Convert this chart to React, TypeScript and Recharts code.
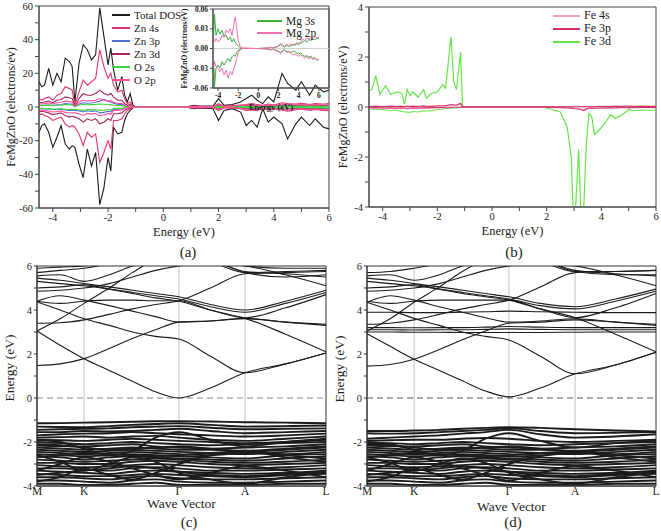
import { LineChart, Line, XAxis, YAxis, ReferenceLine, ReferenceArea } from 'recharts'

const SERIF = '"Liberation Serif", "Times New Roman", Times, serif'
const INK = '#222'

// ---------- (a) total and partial DOS of FeMgZnO ----------
const E_A = [-4.5, -4.4, -4.3, -4.15, -4.0, -3.85, -3.7, -3.55, -3.4, -3.3, -3.2, -3.05, -2.9, -2.75, -2.6, -2.45, -2.3, -2.15, -2.0, -1.9, -1.8, -1.65, -1.5, -1.4, -1.3, -1.2, -1.1, -1.0, 0.0, 0.9, 1.1, 1.3, 1.8, 2.0, 2.2, 2.5, 2.8, 3.0, 3.2, 3.4, 3.6, 3.8, 4.0, 4.3, 4.5, 4.8, 5.0, 5.3, 5.5, 5.8, 6.0]
const TOTAL_UP = [15, 12, 13, 23, 13, 20, 15, 29, 27, 24, 3, 26, 37, 34, 28, 31, 59, 42, 25, 35, 22, 10, 18, 7, 3, 8, 1, 0, 0, 0.3, 1, 0.5, 0.5, 5, 1, 1.5, 3, 5, 7, 4, 2, 6, 3, 20, 14, 10, 15, 7, 13, 9, 10]
const TOTAL_DN = [-15, -11, -10, -15, -24, -18, -11, -22, -25, -23, -24, -34, -42, -25, -35, -27, -58, -48, -30, -38, -12, -16, -15, -8, -4, -2, -0.5, 0, 0, -0.3, -1, -0.5, -1, -8, -2, -1, -3, -11, -8, -12, -1, -9, -6, -10, -19, -10, -6, -11, -7, -12, -13]
const ZN4S_UP = [5, 4, 5, 6, 4, 7, 8, 12, 11, 10, 1, 9, 16, 13, 15, 17, 34, 24, 17, 20, 13, 9, 10, 5, 2, 3, 0.5, 0, 0, 0.2, 0.6, 0.3, 0.3, 2, 0.5, 0.8, 1.2, 1.5, 2, 1.5, 1, 1.8, 1.2, 2.5, 2, 1.8, 2.2, 1.5, 2, 1.8, 2]
const ZN4S_DN = [-5, -4, -5, -6, -8, -7, -6, -10, -12, -11, -12, -16, -23, -15, -18, -16, -33, -27, -20, -25, -8, -8, -7, -4, -2, -1, -0.3, 0, 0, -0.2, -0.5, -0.3, -0.4, -2, -0.6, -0.5, -1, -2, -1.8, -2.2, -0.6, -1.8, -1.2, -1.8, -2.5, -1.6, -1.2, -2, -1.4, -2, -2.2]
const ZN3P_UP = [1, 0.8, 1, 1.2, 0.8, 1.3, 1.5, 2, 1.8, 1.7, 0.2, 1.8, 2.5, 2.2, 2.4, 2.8, 3.5, 4.5, 3.5, 3, 2.2, 1.5, 1.6, 0.8, 0.4, 0.6, 0.1, 0, 0, 0.1, 0.3, 0.1, 0.1, 0.8, 0.2, 0.3, 0.5, 0.7, 0.8, 0.6, 0.4, 0.7, 0.5, 1, 0.8, 0.7, 0.9, 0.6, 0.8, 0.7, 0.8]
const ZN3P_DN = [-1, -0.8, -1, -1.2, -1.5, -1.3, -1.2, -1.8, -2, -1.9, -2, -2.4, -3, -2.2, -2.6, -2.3, -3.5, -3.2, -2.5, -2.8, -1.2, -1.3, -1.1, -0.7, -0.4, -0.2, -0.1, 0, 0, -0.1, -0.3, -0.1, -0.2, -0.8, -0.2, -0.2, -0.4, -0.8, -0.7, -0.9, -0.3, -0.7, -0.5, -0.8, -1, -0.7, -0.5, -0.8, -0.6, -0.8, -0.9]
const ZN3D_UP = [3, 2.5, 3, 3.5, 2.5, 4, 4.5, 6, 5.5, 5, 0.5, 5, 8, 7, 7, 8, 10, 8, 7, 8, 6, 4, 4, 2, 1, 1.5, 0.2, 0, 0, 0.1, 0.3, 0.2, 0.2, 1, 0.3, 0.4, 0.6, 0.8, 1, 0.7, 0.5, 0.9, 0.6, 1.2, 1, 0.9, 1.1, 0.8, 1, 0.9, 1]
const ZN3D_DN = [-3, -2.5, -2.8, -3.5, -4.5, -4, -3.5, -5, -6, -5.5, -6, -7, -9, -7, -8, -7, -10, -9, -7, -8, -4, -4, -3.5, -2, -1, -0.5, -0.1, 0, 0, -0.1, -0.3, -0.2, -0.2, -1, -0.3, -0.3, -0.5, -1, -0.9, -1.1, -0.3, -0.9, -0.6, -0.9, -1.2, -0.8, -0.6, -1, -0.7, -1, -1.1]
const O2S_UP = [1, 0.8, 1, 1.1, 0.9, 1, 1.2, 1.4, 1.3, 1.2, 0.2, 1.2, 1.5, 1.3, 1.4, 1.5, 1.8, 1.6, 1.3, 1.4, 1, 0.7, 0.8, 0.4, 0.2, 0.3, 0.05, 0, 0, 0.05, 0.1, 0.05, 0.05, 0.5, 0.1, 0.2, 0.3, 0.4, 0.5, 0.3, 0.2, 0.4, 0.3, 0.6, 0.5, 0.4, 0.5, 0.4, 0.5, 0.4, 0.5]
const O2S_DN = [-1, -0.8, -0.9, -1.1, -1.3, -1.2, -1, -1.4, -1.5, -1.4, -1.5, -1.7, -2, -1.5, -1.7, -1.6, -2, -1.9, -1.5, -1.7, -0.8, -0.8, -0.7, -0.4, -0.2, -0.1, -0.05, 0, 0, -0.05, -0.1, -0.05, -0.1, -0.5, -0.1, -0.1, -0.3, -0.5, -0.4, -0.5, -0.2, -0.4, -0.3, -0.5, -0.6, -0.4, -0.3, -0.5, -0.4, -0.5, -0.5]
const O2P_UP = [2, 1.8, 2, 2.4, 1.8, 2.5, 2.8, 3.5, 3.2, 3, 0.3, 3, 4, 3.6, 3.8, 4, 5, 4.2, 3.5, 3.8, 2.8, 2, 2.2, 1.2, 0.6, 0.8, 0.1, 0, 0, 0.1, 0.4, 0.2, 0.2, 1.5, 0.4, 0.6, 0.9, 1.2, 1.4, 1, 0.7, 1.2, 0.9, 1.8, 1.5, 1.3, 1.6, 1.1, 1.5, 1.3, 1.5]
const O2P_DN = [-2, -1.8, -2, -2.4, -3, -2.7, -2.3, -3.2, -3.6, -3.4, -3.5, -4, -5, -3.8, -4.2, -3.9, -5.2, -4.8, -3.8, -4.3, -2, -2, -1.8, -1, -0.5, -0.3, -0.1, 0, 0, -0.1, -0.4, -0.2, -0.3, -1.6, -0.4, -0.4, -0.8, -1.6, -1.3, -1.8, -0.5, -1.4, -1, -1.5, -2, -1.3, -1, -1.6, -1.2, -1.6, -1.8]

// inset of (a): Mg partial DOS
const E_I = [-4.5, -4.45, -4.4, -4.35, -4.2, -4.0, -3.8, -3.6, -3.4, -3.2, -3.0, -2.8, -2.6, -2.45, -2.3, -2.15, -2.0, -1.8, -1.6, 0, 1.0, 1.2, 1.4, 2.0, 2.2, 2.4, 2.6, 2.8, 3.0, 3.2, 3.4, 3.6, 3.8, 4.0, 4.2, 4.4, 4.6, 4.8, 5.0, 5.2, 5.4, 5.6, 5.8, 6.0]
const MG3S_UP = [0.015, 0.02, 0.03, 0.052, 0.02, 0.03, 0.022, 0.028, 0.018, 0.02, 0.013, 0.017, 0.01, 0.015, 0.01, 0.006, 0.004, 0.001, 0, 0, 0.001, 0.002, 0.001, 0.003, 0.006, 0.004, 0.002, 0.005, 0.003, 0.004, 0.006, 0.005, 0.007, 0.006, 0.008, 0.01, 0.012, 0.01, 0.014, 0.012, 0.015, 0.013, 0.016, 0.015]
const MG3S_DN = [-0.02, -0.03, -0.03, -0.058, -0.03, -0.025, -0.03, -0.02, -0.025, -0.02, -0.015, -0.02, -0.012, -0.01, -0.012, -0.006, -0.003, -0.001, 0, 0, -0.001, -0.002, -0.001, -0.004, -0.006, -0.003, -0.002, -0.005, -0.004, -0.006, -0.005, -0.004, -0.007, -0.008, -0.007, -0.01, -0.012, -0.011, -0.013, -0.012, -0.015, -0.014, -0.017, -0.016]
const MG2P_UP = [0.02, 0.018, 0.012, 0.01, 0.015, 0.01, 0.013, 0.02, 0.017, 0.028, 0.024, 0.03, 0.02, 0.035, 0.048, 0.03, 0.012, 0.003, 0.001, 0, 0.001, 0.002, 0.001, 0.004, 0.008, 0.005, 0.003, 0.006, 0.005, 0.007, 0.005, 0.006, 0.009, 0.008, 0.01, 0.014, 0.012, 0.016, 0.014, 0.017, 0.015, 0.018, 0.016, 0.018]
const MG2P_DN = [-0.02, -0.03, -0.025, -0.02, -0.028, -0.03, -0.035, -0.03, -0.04, -0.033, -0.045, -0.035, -0.04, -0.03, -0.025, -0.015, -0.006, -0.002, 0, 0, -0.001, -0.002, -0.001, -0.005, -0.008, -0.004, -0.003, -0.006, -0.005, -0.007, -0.01, -0.008, -0.01, -0.012, -0.009, -0.013, -0.015, -0.012, -0.016, -0.013, -0.017, -0.015, -0.018, -0.017]

// ---------- (b) Fe partial DOS ----------
const E_B = [-4.5, -4.4, -4.25, -4.1, -3.9, -3.7, -3.5, -3.3, -3.2, -3.1, -3.0, -2.9, -2.7, -2.5, -2.4, -2.2, -2.0, -1.8, -1.7, -1.5, -1.4, -1.3, -1.15, -1.08, -1.03, 0, 1.9, 2.0, 2.2, 2.5, 2.75, 2.9, 2.97, 3.05, 3.17, 3.25, 3.35, 3.45, 3.55, 3.65, 3.75, 3.9, 4.1, 4.35, 4.5, 4.7, 4.9, 5.0, 5.2, 5.5, 5.8, 6.0]
const FE4S_UP = [0.03, 0.03, 0.04, 0.03, 0.03, 0.04, 0.03, 0.04, 0.02, 0.04, 0.03, 0.04, 0.03, 0.05, 0.03, 0.04, 0.05, 0.06, 0.05, 0.08, 0.1, 0.08, 0.12, 0.02, 0, 0, 0, 0.01, 0.01, 0.01, 0.01, 0.01, 0.01, 0.01, 0.01, 0.01, 0.01, 0.01, 0.01, 0.01, 0.02, 0.02, 0.02, 0.03, 0.03, 0.03, 0.03, 0.04, 0.03, 0.03, 0.03, 0.03]
const FE4S_DN = [-0.04, -0.05, -0.04, -0.06, -0.05, -0.06, -0.05, -0.07, -0.06, -0.08, -0.07, -0.06, -0.07, -0.05, -0.06, -0.05, -0.04, -0.04, -0.03, -0.03, -0.02, -0.02, -0.01, -0.01, 0, 0, 0, -0.01, -0.02, -0.02, -0.03, -0.03, -0.04, -0.05, -0.06, -0.08, -0.1, -0.06, -0.04, -0.05, -0.05, -0.04, -0.04, -0.03, -0.03, -0.02, -0.02, -0.03, -0.02, -0.02, -0.03, -0.02]
const FE3P_UP = [0.02, 0.02, 0.03, 0.02, 0.02, 0.03, 0.02, 0.03, 0.01, 0.03, 0.02, 0.03, 0.02, 0.04, 0.02, 0.03, 0.04, 0.05, 0.05, 0.1, 0.08, 0.07, 0.15, 0.02, 0, 0, 0, 0.01, 0.01, 0.01, 0.01, 0.01, 0.01, 0.01, 0.01, 0.01, 0.01, 0.01, 0.01, 0.01, 0.02, 0.02, 0.02, 0.02, 0.03, 0.02, 0.03, 0.03, 0.02, 0.03, 0.02, 0.03]
const FE3P_DN = [-0.02, -0.03, -0.02, -0.03, -0.04, -0.03, -0.04, -0.03, -0.04, -0.05, -0.04, -0.03, -0.04, -0.03, -0.03, -0.02, -0.02, -0.02, -0.01, -0.01, -0.01, -0.01, -0.01, 0, 0, 0, 0, -0.01, -0.02, -0.03, -0.04, -0.05, -0.06, -0.07, -0.08, -0.1, -0.14, -0.08, -0.05, -0.04, -0.05, -0.04, -0.04, -0.03, -0.04, -0.03, -0.03, -0.02, -0.03, -0.02, -0.02, -0.02]
const FE3D_UP = [0.65, 0.7, 1.25, 0.5, 0.85, 0.5, 0.6, 0.55, 0.1, 0.7, 0.45, 0.6, 0.4, 0.7, 0.35, 0.55, 0.6, 0.9, 0.75, 2.8, 1.0, 0.7, 2.2, 0.05, 0, 0, 0, 0.01, 0.01, 0.01, 0.02, 0.02, 0.02, 0.02, 0.02, 0.02, 0.02, 0.02, 0.02, 0.02, 0.02, 0.03, 0.03, 0.03, 0.03, 0.03, 0.03, 0.03, 0.03, 0.03, 0.03, 0.03]
const FE3D_DN = [-0.05, -0.08, -0.1, -0.08, -0.12, -0.15, -0.12, -0.18, -0.2, -0.2, -0.22, -0.18, -0.2, -0.15, -0.16, -0.14, -0.1, -0.08, -0.06, -0.05, -0.04, -0.03, -0.02, -0.01, 0, 0, 0, -0.05, -0.1, -0.2, -0.8, -2.0, -4.2, -4.2, -1.7, -4.2, -4.2, -1.5, -0.25, -0.4, -1.1, -0.95, -0.7, -0.3, -0.45, -0.35, -0.2, -0.1, -0.15, -0.12, -0.14, -0.12]

// ---------- (c), (d) band structures ----------
const KX = [0, 0.08, 0.163, 0.25, 0.33, 0.41, 0.491, 0.6, 0.72, 0.86, 1]
const K_POS = [0, 0.163, 0.491, 0.72, 1]
const K_LABELS = ['M', 'K', 'Γ', 'A', 'L']

const BANDS_C_CB = [
  [3.05, 2.4, 1.78, 1.25, 0.76, 0.28, 0.0, 0.45, 1.15, 1.55, 2.05],
  [1.48, 1.55, 1.79, 2.25, 2.7, 3.1, 3.45, 3.5, 3.6, 3.45, 3.35],
  [4.36, 4.0, 3.6, 3.3, 3.0, 2.8, 2.68, 1.9, 1.15, 1.55, 2.05],
  [3.05, 3.6, 4.3, 5.0, 5.7, 6.3, 6.6, 6.3, 5.7, 5.5, 5.6],
  [3.4, 3.42, 3.55, 3.8, 4.05, 4.25, 4.42, 5.0, 5.65, 5.7, 5.75],
  [4.4, 4.65, 4.45, 4.2, 3.95, 3.7, 3.45, 3.5, 3.62, 3.45, 3.3],
  [5.45, 5.35, 5.2, 5.05, 4.9, 4.75, 4.6, 4.25, 4.0, 4.4, 4.9],
  [5.3, 5.2, 5.1, 4.95, 4.8, 4.65, 4.5, 4.15, 3.9, 4.3, 4.8],
  [5.0, 5.05, 5.15, 4.95, 4.75, 4.55, 4.4, 4.0, 3.65, 4.1, 4.7],
  [4.4, 4.3, 4.4, 4.45, 4.45, 4.42, 4.42, 4.0, 3.62, 2.9, 2.1],
  [5.55, 5.6, 5.3, 5.6, 6.0, 6.3, 6.5, 6.2, 5.7, 5.75, 5.8],
  [5.7, 5.8, 5.9, 6.1, 6.3, 6.4, 6.5, 6.3, 5.75, 5.65, 5.5],
  [5.9, 5.95, 6.0, 6.2, 6.4, 6.5, 6.6, 6.4, 6.0, 5.9, 5.9],
  [4.85, 4.9, 5.0, 5.2, 5.5, 5.8, 6.0, 6.1, 6.0, 5.6, 5.1],
]
const BANDS_C_VB = [
  [-1.15, -1.14, -1.12, -1.1, -1.08, -1.06, -1.05, -1.07, -1.1, -1.12, -1.15],
  [-1.3, -1.32, -1.33, -1.28, -1.22, -1.18, -1.15, -1.22, -1.3, -1.28, -1.25],
  [-1.45, -1.42, -1.4, -1.38, -1.33, -1.3, -1.28, -1.35, -1.42, -1.4, -1.38],
  [-1.55, -1.55, -1.5, -1.52, -1.5, -1.45, -1.4, -1.5, -1.6, -1.55, -1.5],
  [-1.7, -1.65, -1.62, -1.6, -1.55, -1.6, -1.65, -1.7, -1.75, -1.7, -1.62],
  [-1.8, -1.78, -1.75, -1.8, -1.75, -1.72, -1.8, -1.9, -1.95, -1.85, -1.75],
  [-1.9, -1.92, -1.95, -1.9, -1.85, -1.9, -1.95, -2.0, -2.05, -2.0, -1.9],
  [-2.0, -2.05, -2.1, -2.05, -2.0, -2.05, -2.1, -2.15, -2.1, -2.05, -2.0],
  [-2.15, -2.2, -2.2, -2.15, -2.1, -2.2, -2.25, -2.3, -2.25, -2.2, -2.1],
  [-2.25, -2.3, -2.35, -2.3, -2.25, -2.3, -2.35, -2.35, -2.4, -2.3, -2.2],
  [-2.35, -2.4, -2.45, -2.4, -2.35, -2.4, -2.45, -2.5, -2.55, -2.45, -2.35],
  [-2.45, -2.5, -2.55, -2.5, -2.45, -2.5, -2.55, -2.6, -2.5, -2.55, -2.45],
  [-2.55, -2.6, -2.65, -2.6, -2.55, -2.6, -2.65, -2.7, -2.75, -2.6, -2.55],
  [-2.65, -2.7, -2.8, -2.7, -2.65, -2.7, -2.75, -2.8, -2.85, -2.75, -2.65],
  [-2.8, -2.85, -2.9, -2.85, -2.8, -2.75, -2.8, -2.9, -2.95, -2.9, -2.8],
  [-2.95, -2.95, -3.0, -3.0, -2.9, -2.85, -2.9, -3.0, -3.05, -3.0, -2.95],
  [-3.05, -3.1, -3.15, -3.1, -3.05, -3.0, -3.05, -3.15, -3.2, -3.15, -3.05],
  [-3.2, -3.2, -3.25, -3.3, -3.2, -3.15, -3.2, -3.3, -3.3, -3.25, -3.2],
  [-3.3, -3.35, -3.4, -3.45, -3.35, -3.3, -3.35, -3.4, -3.45, -3.4, -3.3],
  [-3.45, -3.5, -3.55, -3.55, -3.5, -3.45, -3.5, -3.55, -3.6, -3.5, -3.45],
  [-3.6, -3.6, -3.65, -3.7, -3.6, -3.55, -3.65, -3.7, -3.7, -3.65, -3.6],
  [-3.75, -3.75, -3.8, -3.85, -3.75, -3.7, -3.8, -3.85, -3.85, -3.8, -3.75],
  [-3.9, -3.9, -3.95, -3.95, -3.9, -3.85, -3.95, -3.95, -3.95, -3.9, -3.9],
  [-2.6, -2.9, -3.3, -3.0, -2.7, -2.9, -3.4, -3.7, -3.9, -3.6, -3.4],
  [-3.8, -3.6, -3.2, -3.5, -3.7, -3.4, -3.0, -2.6, -2.4, -2.7, -2.9],
  [-1.9, -2.0, -2.3, -2.6, -2.4, -1.8, -1.55, -1.9, -2.2, -2.0, -1.85],
  [-3.3, -3.0, -2.7, -2.9, -3.2, -3.5, -3.7, -3.4, -3.1, -3.3, -3.6],
  [-2.1, -2.15, -2.25, -2.35, -2.3, -2.25, -2.2, -2.3, -2.45, -2.35, -2.25],
  [-2.7, -2.6, -2.5, -2.55, -2.6, -2.65, -2.6, -2.5, -2.45, -2.6, -2.75],
  [-3.5, -3.4, -3.3, -3.2, -3.1, -3.2, -3.35, -3.5, -3.55, -3.45, -3.35],
]

const BANDS_D_CB = [
  [2.92, 2.35, 1.76, 1.25, 0.78, 0.32, 0.05, 0.45, 1.1, 1.5, 2.08],
  [1.45, 1.52, 1.76, 2.2, 2.65, 3.05, 3.4, 3.45, 3.55, 3.45, 3.35],
  [4.35, 4.0, 3.62, 3.3, 3.0, 2.8, 2.64, 1.9, 1.1, 1.5, 2.08],
  [3.05, 3.6, 4.35, 5.05, 5.75, 6.3, 6.6, 6.3, 5.75, 5.6, 5.6],
  [3.35, 3.4, 3.55, 3.8, 4.05, 4.25, 4.45, 5.05, 5.7, 5.75, 5.8],
  [4.35, 4.65, 4.45, 4.15, 3.9, 3.65, 3.45, 3.5, 3.6, 3.45, 3.3],
  [5.45, 5.35, 5.2, 5.05, 4.9, 4.75, 4.6, 4.3, 4.15, 4.5, 4.95],
  [5.3, 5.2, 5.1, 4.95, 4.8, 4.65, 4.5, 4.2, 4.05, 4.4, 4.85],
  [5.0, 5.05, 5.15, 4.95, 4.75, 4.6, 4.45, 4.05, 3.65, 4.1, 4.75],
  [4.4, 4.3, 4.4, 4.45, 4.45, 4.45, 4.45, 4.05, 3.65, 2.9, 2.1],
  [5.55, 5.6, 5.35, 5.6, 6.0, 6.3, 6.5, 6.2, 5.75, 5.75, 5.8],
  [5.7, 5.75, 5.9, 6.1, 6.3, 6.4, 6.5, 6.3, 5.8, 5.65, 5.55],
  [4.85, 4.9, 5.0, 5.2, 5.5, 5.8, 6.0, 6.1, 6.0, 5.6, 5.1],
  [3.0, 3.0, 2.99, 2.99, 2.98, 2.98, 2.98, 2.98, 2.99, 3.0, 3.0],
  [3.1, 3.1, 3.09, 3.1, 3.1, 3.12, 3.14, 3.12, 3.1, 3.1, 3.1],
  [3.2, 3.2, 3.19, 3.2, 3.2, 3.22, 3.25, 3.22, 3.2, 3.2, 3.2],
  [3.9, 3.9, 3.88, 3.88, 3.9, 3.92, 3.95, 3.92, 3.9, 3.88, 3.88],
]
const BANDS_D_VB = [
  [-1.5, -1.5, -1.48, -1.45, -1.4, -1.36, -1.33, -1.36, -1.42, -1.48, -1.52],
  [-1.6, -1.62, -1.6, -1.55, -1.5, -1.45, -1.38, -1.5, -1.6, -1.58, -1.55],
  [-1.85, -1.8, -1.75, -1.7, -1.62, -1.55, -1.45, -1.65, -1.8, -1.75, -1.65],
  [-1.95, -1.92, -1.9, -1.9, -1.85, -1.82, -1.85, -1.95, -2.0, -1.95, -1.9],
  [-2.05, -2.05, -2.1, -2.05, -2.0, -2.05, -2.1, -2.15, -2.1, -2.05, -2.0],
  [-2.15, -2.2, -2.2, -2.15, -2.1, -2.2, -2.25, -2.3, -2.25, -2.2, -2.1],
  [-2.25, -2.3, -2.35, -2.3, -2.25, -2.3, -2.35, -2.35, -2.4, -2.3, -2.2],
  [-2.35, -2.4, -2.45, -2.4, -2.35, -2.4, -2.45, -2.5, -2.55, -2.45, -2.35],
  [-2.45, -2.5, -2.55, -2.5, -2.45, -2.5, -2.55, -2.6, -2.5, -2.55, -2.45],
  [-2.55, -2.6, -2.65, -2.6, -2.55, -2.6, -2.65, -2.7, -2.75, -2.6, -2.55],
  [-2.65, -2.7, -2.8, -2.7, -2.65, -2.7, -2.75, -2.8, -2.85, -2.75, -2.65],
  [-2.8, -2.85, -2.9, -2.85, -2.8, -2.75, -2.8, -2.9, -2.95, -2.9, -2.8],
  [-2.95, -2.95, -3.0, -3.0, -2.9, -2.85, -2.9, -3.0, -3.05, -3.0, -2.95],
  [-3.05, -3.1, -3.15, -3.1, -3.05, -3.0, -3.05, -3.15, -3.2, -3.15, -3.05],
  [-3.2, -3.2, -3.25, -3.3, -3.2, -3.15, -3.2, -3.3, -3.3, -3.25, -3.2],
  [-3.3, -3.35, -3.4, -3.45, -3.35, -3.3, -3.35, -3.4, -3.45, -3.4, -3.3],
  [-3.45, -3.5, -3.55, -3.55, -3.5, -3.45, -3.5, -3.55, -3.6, -3.5, -3.45],
  [-3.6, -3.6, -3.65, -3.7, -3.6, -3.55, -3.65, -3.7, -3.7, -3.65, -3.6],
  [-3.75, -3.75, -3.8, -3.85, -3.75, -3.7, -3.8, -3.85, -3.85, -3.8, -3.75],
  [-3.9, -3.9, -3.95, -3.95, -3.9, -3.85, -3.95, -3.95, -3.95, -3.9, -3.9],
  [-2.7, -2.95, -3.3, -3.0, -2.75, -2.95, -3.4, -3.7, -3.9, -3.6, -3.4],
  [-3.8, -3.6, -3.2, -3.5, -3.7, -3.4, -3.0, -2.65, -2.45, -2.7, -2.9],
  [-2.0, -2.1, -2.35, -2.6, -2.4, -1.85, -1.6, -1.95, -2.25, -2.05, -1.95],
  [-3.3, -3.0, -2.7, -2.9, -3.2, -3.5, -3.75, -3.4, -3.1, -3.3, -3.6],
  [-2.1, -2.15, -2.25, -2.35, -2.3, -2.25, -2.2, -2.3, -2.45, -2.35, -2.25],
  [-2.7, -2.6, -2.5, -2.55, -2.6, -2.65, -2.6, -2.5, -2.45, -2.6, -2.75],
  [-3.5, -3.4, -3.3, -3.2, -3.1, -3.2, -3.35, -3.5, -3.55, -3.45, -3.35],
]

const A_XTICKS = [-4, -3, -2, -1, 0, 1, 2, 3, 4, 5, 6]
const A_YTICKS = [-60, -50, -40, -30, -20, -10, 0, 10, 20, 30, 40, 50, 60]
const B_YTICKS = [-4, -3, -2, -1, 0, 1, 2, 3, 4]
const I_XTICKS = [-4, -2, 0, 2, 4, 6]
const I_YTICKS = [-0.06, -0.03, 0, 0.03, 0.06]
const BAND_YTICKS = [-4, -3, -2, -1, 0, 1, 2, 3, 4, 5, 6]

const SERIES_A = [
  { key: 'tot', name: 'Total DOS', color: '#1b1b1b', up: TOTAL_UP, dn: TOTAL_DN },
  { key: 'zn4s', name: 'Zn 4s', color: '#e2336a', up: ZN4S_UP, dn: ZN4S_DN },
  { key: 'zn3p', name: 'Zn 3p', color: '#4d6fd6', up: ZN3P_UP, dn: ZN3P_DN },
  { key: 'zn3d', name: 'Zn 3d', color: '#a3285f', up: ZN3D_UP, dn: ZN3D_DN },
  { key: 'o2s', name: 'O 2s', color: '#3fd33f', up: O2S_UP, dn: O2S_DN },
  { key: 'o2p', name: 'O 2p', color: '#ff4f9d', up: O2P_UP, dn: O2P_DN },
]
const SERIES_I = [
  { key: 'mg3s', name: 'Mg 3s', color: '#3cae3c', up: MG3S_UP, dn: MG3S_DN },
  { key: 'mg2p', name: 'Mg 2p', color: '#f070b0', up: MG2P_UP, dn: MG2P_DN },
]
const SERIES_B = [
  { key: 'fe3d', name: 'Fe 3d', color: '#66e447', up: FE3D_UP, dn: FE3D_DN },
  { key: 'fe4s', name: 'Fe 4s', color: '#f2a2c2', up: FE4S_UP, dn: FE4S_DN },
  { key: 'fe3p', name: 'Fe 3p', color: '#d3306b', up: FE3P_UP, dn: FE3P_DN },
]
const LEGEND_B = ['Fe 4s', 'Fe 3p', 'Fe 3d']

type Series = { key: string; name: string; color: string; up: number[]; dn: number[] }

function buildRows(xs: number[], series: Series[]) {
  return xs.map((e, i) => {
    const r: Record<string, number> = { e }
    series.forEach((s) => {
      r[s.key + 'U'] = s.up[i]
      r[s.key + 'D'] = s.dn[i]
    })
    return r
  })
}

// font goes both as attribute and as inline style, so the svg text really is serif
const tickStyle = (size: number, bold = false) => ({
  fontSize: size,
  fill: INK,
  fontFamily: SERIF,
  fontWeight: bold ? 700 : 400,
  style: { fontFamily: SERIF },
})

const labelStyle = (size: number, extra: Record<string, unknown> = {}) => ({
  fontFamily: SERIF,
  fontSize: size,
  fill: INK,
  ...extra,
})

const evenOnly = (v: number) => (v % 2 === 0 ? String(v) : '')

function seriesLines(series: Series[], width: number) {
  return series.flatMap((s) => [
    <Line key={s.key + 'U'} dataKey={s.key + 'U'} type="linear" stroke={s.color} strokeWidth={width} dot={false} isAnimationActive={false} />,
    <Line key={s.key + 'D'} dataKey={s.key + 'D'} type="linear" stroke={s.color} strokeWidth={width} dot={false} isAnimationActive={false} />,
  ])
}

function Legend({ items, left, top, lineW, fontSize, rowH }: { items: { name: string; color: string }[]; left: number; top: number; lineW: number; fontSize: number; rowH: number }) {
  return (
    <div style={{ position: 'absolute', left, top, fontFamily: SERIF, fontSize, color: INK }}>
      {items.map((it) => (
        <div key={it.name} style={{ display: 'flex', alignItems: 'center', height: rowH, whiteSpace: 'nowrap' }}>
          <span style={{ display: 'inline-block', width: lineW, height: 2, background: it.color, marginRight: 4 }} />
          <span>{it.name}</span>
        </div>
      ))}
    </div>
  )
}

function Caption({ text, x, y }: { text: string; x: number; y: number }) {
  return (
    <div style={{ position: 'absolute', left: x - 20, top: y - 9, width: 40, textAlign: 'center', fontFamily: SERIF, fontSize: 15, color: INK, lineHeight: '18px' }}>
      {text}
    </div>
  )
}

const chartStyle = { fontFamily: SERIF }

function PanelA() {
  const rows = buildRows(E_A, SERIES_A)
  const inset = buildRows(E_I, SERIES_I)
  return (
    <div style={{ position: 'absolute', left: 0, top: 0, width: 335, height: 245, fontFamily: SERIF }}>
      <LineChart width={335} height={245} data={rows} style={chartStyle} margin={{ top: 6, right: 6, bottom: 0, left: 0 }}>
        <XAxis dataKey="e" type="number" domain={[-4.5, 6]} ticks={A_XTICKS} interval={0} tickFormatter={evenOnly} height={37} tickSize={4} tick={tickStyle(10.5)} stroke="#444"
          label={{ value: 'Energy (eV)', position: 'center', dy: 5, style: labelStyle(12.5) }} />
        <YAxis type="number" domain={[-60, 60]} ticks={A_YTICKS} interval={0} allowDataOverflow width={39} tickSize={4} tick={tickStyle(10.5)} stroke="#444"
          tickFormatter={(v: number) => (v % 20 === 0 ? String(v) : '')}
          label={{ value: 'FeMgZnO (electrons/ev)', angle: -90, position: 'center', dx: -9, style: labelStyle(12, { textAnchor: 'middle' }) }} />
        {seriesLines(SERIES_A, 1.1)}
        <ReferenceArea x1={-4.5} x2={6} y1={-60} y2={60} fill="none" fillOpacity={0} stroke="#444" />
      </LineChart>
      <div style={{ position: 'absolute', left: 170, top: 0 }}>
        <LineChart width={165} height={112} data={inset} style={chartStyle} margin={{ top: 9, right: 6, bottom: 0, left: 0 }}>
          <XAxis dataKey="e" type="number" domain={[-4.5, 7]} ticks={I_XTICKS} interval={0} height={24} tickSize={3} tick={tickStyle(7.5, true)} stroke="#444"
            label={{ value: 'Energy (eV)', position: 'center', dy: 7, style: labelStyle(8.5, { fontWeight: 700 }) }} />
          <YAxis type="number" domain={[-0.06, 0.06]} ticks={I_YTICKS} interval={0} allowDataOverflow width={43} tickSize={3} tick={tickStyle(7.5, true)} stroke="#444"
            tickFormatter={(v: number) => v.toFixed(2)}
            label={{ value: 'FeMgZnO (electrons/eV)', angle: -90, position: 'center', dx: -7, style: labelStyle(7.5, { fontWeight: 700, textAnchor: 'middle' }) }} />
          <ReferenceLine y={0} stroke="#d0d0d0" strokeWidth={1} />
          {seriesLines(SERIES_I, 1)}
          <ReferenceArea x1={-4.5} x2={7} y1={-0.06} y2={0.06} fill="none" fillOpacity={0} stroke="#444" />
        </LineChart>
      </div>
      <Legend items={SERIES_A} left={112} top={8} lineW={18} fontSize={11} rowH={13} />
      <Legend items={SERIES_I} left={257} top={15} lineW={25} fontSize={11.5} rowH={12} />
    </div>
  )
}

function PanelB() {
  const rows = buildRows(E_B, SERIES_B)
  const legendItems = LEGEND_B.map((n) => SERIES_B.find((s) => s.name === n)!)
  return (
    <div style={{ position: 'absolute', left: 330, top: 0, width: 331, height: 245, fontFamily: SERIF }}>
      <LineChart width={331} height={245} data={rows} style={chartStyle} margin={{ top: 7, right: 5, bottom: 0, left: 0 }}>
        <XAxis dataKey="e" type="number" domain={[-4.5, 6]} ticks={A_XTICKS} interval={0} tickFormatter={evenOnly} height={38} tickSize={4} tick={tickStyle(10.5)} stroke="#444"
          label={{ value: 'Energy (eV)', position: 'center', dy: 5, style: labelStyle(12.5) }} />
        <YAxis type="number" domain={[-4, 4]} ticks={B_YTICKS} interval={0} allowDataOverflow width={39} tickSize={4} tick={tickStyle(10.5)} stroke="#444"
          tickFormatter={evenOnly}
          label={{ value: 'FeMgZnO (electrons/eV)', angle: -90, position: 'center', dx: -7, style: labelStyle(12, { textAnchor: 'middle' }) }} />
        {seriesLines(SERIES_B, 1.2)}
        <ReferenceArea x1={-4.5} x2={6} y1={-4} y2={4} fill="none" fillOpacity={0} stroke="#444" />
      </LineChart>
      <Legend items={legendItems} left={223} top={9} lineW={27} fontSize={12} rowH={13} />
    </div>
  )
}

function BandPanel({ left, width, right, cb, vb, titleDy, yLabelDy, zeroColor }: { left: number; width: number; right: number; cb: number[][]; vb: number[][]; titleDy: number; yLabelDy: number; zeroColor: string }) {
  const bands = [...cb, ...vb]
  const rows = KX.map((k, i) => {
    const r: Record<string, number> = { k }
    bands.forEach((b, j) => {
      r['b' + j] = b[i]
    })
    return r
  })
  return (
    <div style={{ position: 'absolute', left, top: 250, width, height: 281, fontFamily: SERIF }}>
      <LineChart width={width} height={281} data={rows} style={chartStyle} margin={{ top: 16, right, bottom: 0, left: 0 }}>
        <XAxis dataKey="k" type="number" domain={[0, 1]} ticks={K_POS} interval={0} tickFormatter={(v: number) => K_LABELS[K_POS.indexOf(v)]} height={45} tickSize={0} tickMargin={1} tick={tickStyle(11.5)} stroke="#333"
          label={{ value: 'Wave Vector', position: 'center', dy: titleDy, style: labelStyle(13.5) }} />
        <YAxis type="number" domain={[-4, 6]} ticks={BAND_YTICKS} interval={0} allowDataOverflow width={37} tickSize={3} tick={tickStyle(10.5)} stroke="#333"
          tickFormatter={evenOnly}
          label={{ value: 'Energy (eV)', angle: -90, position: 'center', dx: -9, dy: yLabelDy, style: labelStyle(13.5, { textAnchor: 'middle' }) }} />
        {K_POS.slice(1, 4).map((k) => (
          <ReferenceLine key={k} x={k} stroke="#b8c5ce" strokeWidth={1} />
        ))}
        <ReferenceLine y={0} stroke={zeroColor} strokeWidth={1.2} strokeDasharray="6 4" />
        {bands.map((_, j) => (
          <Line key={j} dataKey={'b' + j} type="monotone" stroke="#1c1c1c" strokeWidth={j < cb.length ? 1.1 : 1.9} dot={false} isAnimationActive={false} />
        ))}
        <ReferenceArea x1={0} x2={1} y1={-4} y2={6} fill="none" fillOpacity={0} stroke="#333" />
      </LineChart>
    </div>
  )
}

export default function App() {
  return (
    <div style={{ position: 'absolute', left: 0, top: 0, width: 661, height: 531, background: '#fff', overflow: 'hidden', fontFamily: SERIF }}>
      <PanelA />
      <PanelB />
      <BandPanel left={0} width={335} right={9} cb={BANDS_C_CB} vb={BANDS_C_VB} titleDy={-5} yLabelDy={-8} zeroColor="#8a8a8a" />
      <BandPanel left={330} width={331} right={5} cb={BANDS_D_CB} vb={BANDS_D_VB} titleDy={-2} yLabelDy={-7} zeroColor="#555" />
      <Caption text="(a)" x={188} y={252} />
      <Caption text="(b)" x={514} y={252} />
      <Caption text="(c)" x={189} y={522} />
      <Caption text="(d)" x={513} y={522} />
    </div>
  )
}
